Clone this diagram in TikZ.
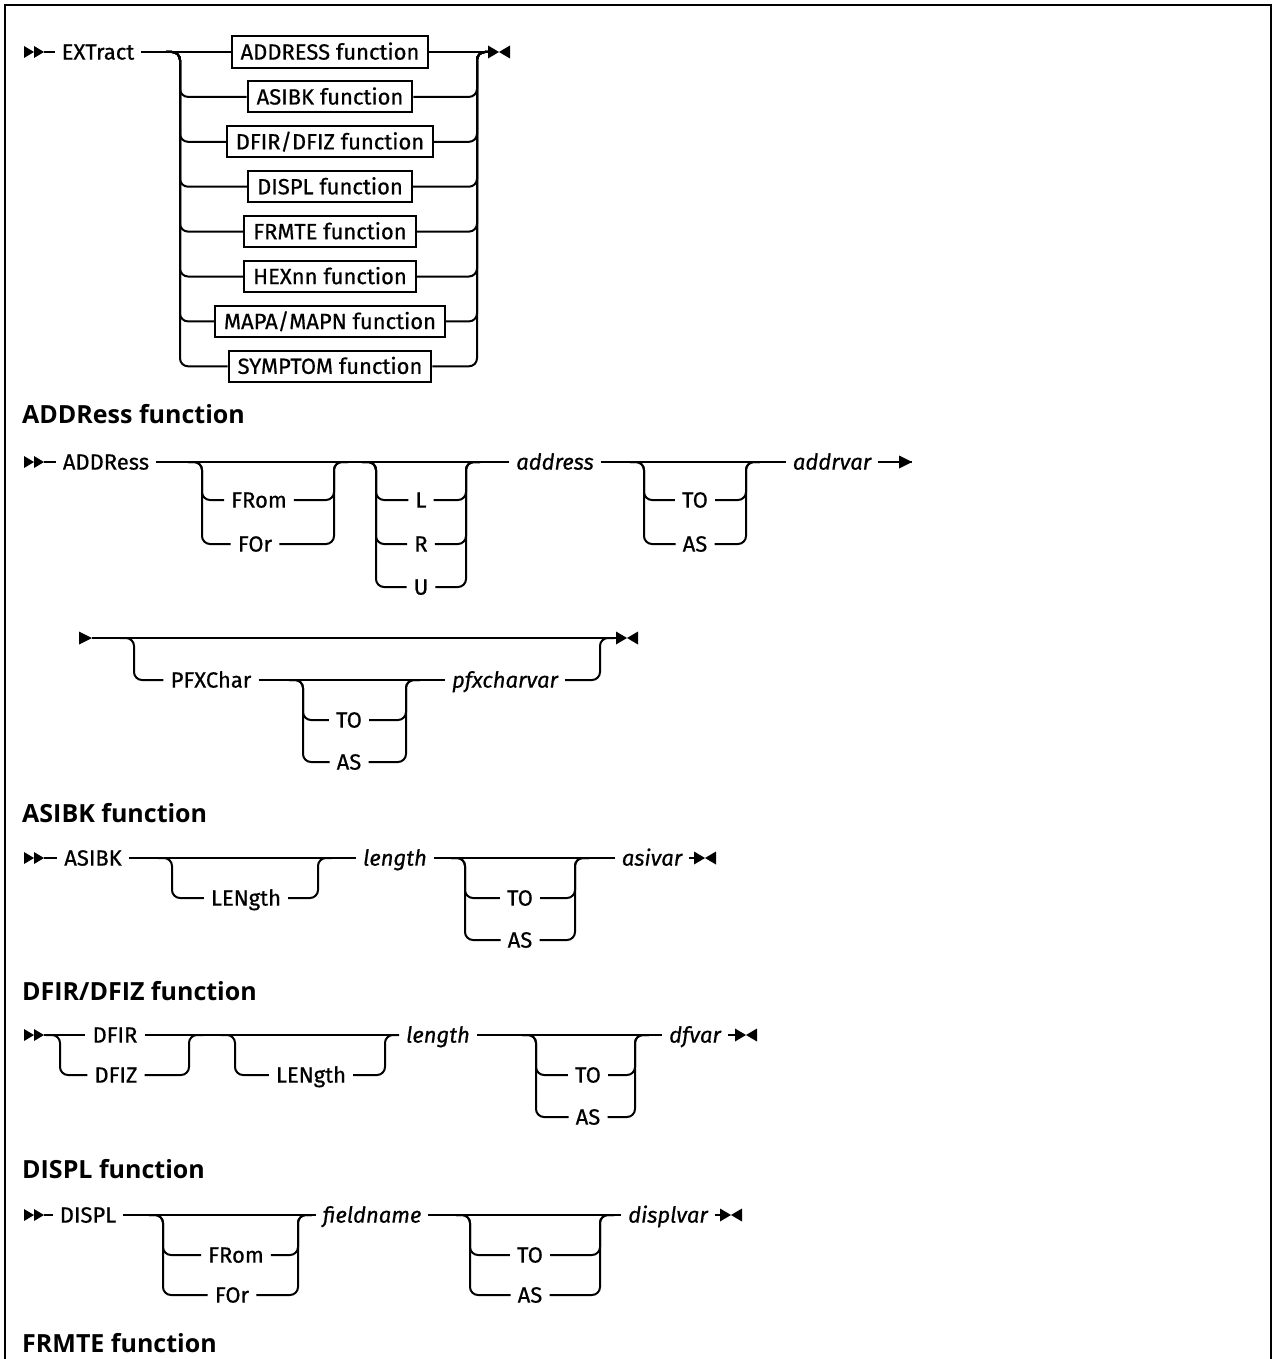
\documentclass[tikz,border=0pt]{standalone}
\usepackage{fontspec}
\newfontfamily\railfont[FakeBold=0.6]{Fira Sans}
\newfontfamily\headfont{Open Sans}
\newcommand\symStart[2]{\coordinate (#1) at (#2);
  \fill (#1) ++(-20,-6) -- ++(10,6) -- ++(-10,6) -- cycle;
  \fill (#1) ++(-10,-6) -- ++(10,6) -- ++(-10,6) -- cycle;}
\newcommand\symEnd[2]{\coordinate (#1) at (#2);
  \fill (#1) ++(0,-6.5) -- ++(11,6.5) -- ++(-11,6.5) -- cycle;
  \fill (#1) ++(22,-6.5) -- ++(-11,6.5) -- ++(11,6.5) -- cycle;}
\newcommand\symArrow[2]{\coordinate (#1) at (#2);
  \fill (#1) -- ++(-13,-6.5) -- ++(0,13) -- cycle;}
\newcommand\lbr[3]{\draw[rail] (#1-14,#2) -- (#1,#2) -- (#1,#2 |- #3.west) -- (#3.west);}
\newcommand\rbr[3]{\draw[rail] (#3.east) -- (#1,#2 |- #3.east) -- (#1,#2) -- (#1+14,#2);}
\begin{document}
\begin{tikzpicture}[x=1pt,y=-1pt,
  rail/.style={line width=2pt, rounded corners=8pt},
  rt/.style={font={\railfont\fontsize{22pt}{26pt}\selectfont}, text height=15.2pt, text depth=0pt, inner xsep=7pt, inner ysep=0pt},
  it/.style={rt, font={\railfont\itshape\fontsize{22pt}{26pt}\selectfont}},
  bx/.style={rt, draw, line width=2pt, inner xsep=9pt, inner ysep=8pt},
  hd/.style={font={\headfont\bfseries\fontsize{25pt}{30pt}\selectfont}, anchor=base west, inner sep=0pt}]
\useasboundingbox (0,0) rectangle (1274,1359);
\fill[white] (0,0) rectangle (1274,1359);
\draw[line width=2.5pt] (5,1359) -- (5,5) -- (1271,5) -- (1271,1359);

% ---------- EXTract ----------
\symStart{s1}{44,52}
\node[rt] (ext) at (98,52) {EXTract};
\node[bx] (f1) at (330,52) {ADDRESS function};
\node[bx] (f2) at (330,96.9) {ASIBK function};
\node[bx] (f3) at (330,141.8) {DFIR/DFIZ function};
\node[bx] (f4) at (330,186.7) {DISPL function};
\node[bx] (f5) at (330,231.6) {FRMTE function};
\node[bx] (f6) at (330,276.5) {HEXnn function};
\node[bx] (f7) at (330,321.4) {MAPA/MAPN function};
\node[bx] (f8) at (330,366.3) {SYMPTOM function};
\symEnd{e1}{488,52}
\draw[rail] (s1) -- (ext.west);
\draw[rail] (ext.east) -- (f1.west);
\draw[rail] (f1.east) -- (e1);
\foreach \n in {f2,f3,f4,f5,f6,f7,f8} {\lbr{180}{52}{\n} \rbr{477}{52}{\n}}

% ---------- ADDRess ----------
\node[hd] (h2) at (22,423) {ADDRess function};
\symStart{s2}{44,462}
\node[rt] (addr) at (106,462) {ADDRess};
\node[rt] (from1) at (259,500) {FRom};
\node[rt] (for1) at (255,544) {FOr};
\node[rt] (l) at (421,500) {L};
\node[rt] (r) at (421,544) {R};
\node[rt] (u) at (421,587) {U};
\node[it] (address) at (555,462) {address};
\node[rt] (to1) at (695,500) {TO};
\node[rt] (as1) at (695,544) {AS};
\node[it] (addrvar) at (832,462) {addrvar};
\symArrow{a2}{912,462}
\draw[rail] (s2) -- (addr.west);
\draw[rail] (addr.east) -- (address.west);
\draw[rail] (address.east) -- (addrvar.west);
\draw[rail] (addrvar.east) -- (a2);
\foreach \n in {from1,for1} {\lbr{202}{462}{\n} \rbr{334}{462}{\n}}
\foreach \n in {l,r,u} {\lbr{376}{462}{\n} \rbr{466}{462}{\n}}
\foreach \n in {to1,as1} {\lbr{644}{462}{\n} \rbr{746}{462}{\n}}

% continuation
\symArrow{c0}{92,638}
\symEnd{e2}{616,638}
\draw[rail] (c0) -- (e2);
\node[rt] (pfx) at (211,680) {PFXChar};
\node[rt] (to2) at (349,720) {TO};
\node[rt] (as2) at (349,762) {AS};
\node[it] (pfxv) at (505,680) {pfxcharvar};
\draw[rail] (pfx.east) -- (pfxv.west);
\lbr{134}{638}{pfx} \rbr{600}{638}{pfxv}
\foreach \n in {to2,as2} {\lbr{303}{680}{\n} \rbr{406}{680}{\n}}

% ---------- ASIBK ----------
\node[hd] (h3) at (22,822) {ASIBK function};
\symStart{s3}{44,858}
\node[rt] (asibk) at (93,858) {ASIBK};
\node[rt] (len1) at (246,898) {LENgth};
\node[it] (length1) at (395,858) {length};
\node[rt] (to3) at (520,898) {TO};
\node[rt] (as3) at (520,940) {AS};
\node[it] (asivar) at (652,858) {asivar};
\symEnd{e3}{694,858}
\draw[rail] (s3) -- (asibk.west);
\draw[rail] (asibk.east) -- (length1.west);
\draw[rail] (length1.east) -- (asivar.west);
\draw[rail] (asivar.east) -- (e3);
\lbr{172}{858}{len1} \rbr{318}{858}{len1}
\foreach \n in {to3,as3} {\lbr{465}{858}{\n} \rbr{575}{858}{\n}}

% ---------- DFIR/DFIZ ----------
\node[hd] (h4) at (22,1000) {DFIR/DFIZ function};
\symStart{s4}{44,1035}
\node[rt] (dfir) at (115,1035) {DFIR};
\node[rt] (dfiz) at (116,1075) {DFIZ};
\node[rt] (len2) at (311,1075) {LENgth};
\node[it] (length2) at (438,1035) {length};
\node[rt] (to4) at (588,1075) {TO};
\node[rt] (as4) at (588,1117) {AS};
\node[it] (dfvar) at (695,1035) {dfvar};
\symEnd{e4}{735,1035}
\draw[rail] (s4) -- (dfir.west);
\draw[rail] (dfir.east) -- (length2.west);
\draw[rail] (length2.east) -- (dfvar.west);
\draw[rail] (dfvar.east) -- (e4);
\lbr{60}{1035}{dfiz} \rbr{189}{1035}{dfiz}
\lbr{235}{1035}{len2} \rbr{385}{1035}{len2}
\foreach \n in {to4,as4} {\lbr{536}{1035}{\n} \rbr{635}{1035}{\n}}

% ---------- DISPL ----------
\node[hd] (h5) at (22,1178) {DISPL function};
\symStart{s5}{44,1215}
\node[rt] (displ) at (88,1215) {DISPL};
\node[rt] (from2) at (236,1255) {FRom};
\node[rt] (for2) at (232,1295) {FOr};
\node[it] (field) at (372,1215) {fieldname};
\node[rt] (to5) at (530,1255) {TO};
\node[rt] (as5) at (530,1295) {AS};
\node[it] (displvar) at (668,1215) {displvar};
\symEnd{e5}{720,1215}
\draw[rail] (s5) -- (displ.west);
\draw[rail] (displ.east) -- (field.west);
\draw[rail] (field.east) -- (displvar.west);
\draw[rail] (displvar.east) -- (e5);
\foreach \n in {from2,for2} {\lbr{163}{1215}{\n} \rbr{298}{1215}{\n}}
\foreach \n in {to5,as5} {\lbr{470}{1215}{\n} \rbr{600}{1215}{\n}}

% ---------- FRMTE ----------
\node[hd] (h6) at (22,1352) {FRMTE function};
\end{tikzpicture}
\end{document}
